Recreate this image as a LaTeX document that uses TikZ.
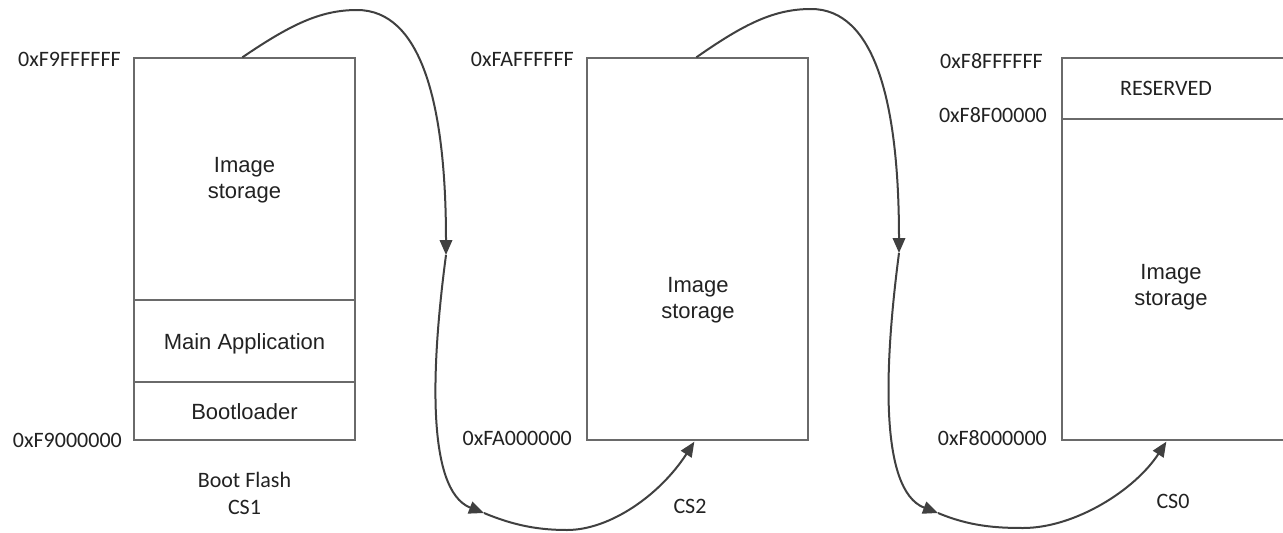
\documentclass[tikz,border=0pt]{standalone}
\usepackage{fontspec}
\setmainfont{Liberation Sans}
\newfontfamily\arialfont{Liberation Sans}
\newfontfamily\califont{Carlito}
\usetikzlibrary{arrows.meta,calc}
\definecolor{boxgray}{HTML}{6A6A6A}
\definecolor{linegray}{HTML}{404040}
\definecolor{txt}{HTML}{222222}
\begin{document}
\begin{tikzpicture}[x=1pt,y=-1pt,
  region/.style={draw=boxgray, line width=1.3pt, inner sep=0pt, minimum width=221pt,
    text height=16pt, text depth=0pt, text=txt, font=\arialfont\fontsize{22}{26}\selectfont},
  sans/.style={inner sep=0pt, text=txt, font=\arialfont\fontsize{22}{26}\selectfont},
  cal/.style={inner sep=0pt, text=txt, font=\califont\fontsize{22}{27}\selectfont},
  addr/.style={cal, anchor=base east},
  conn/.style={draw=linegray, line width=2pt, -{Triangle[length=15pt,width=12.5pt]}},
  plain/.style={draw=linegray, line width=2pt}]
\useasboundingbox[fill=white] (0,0) rectangle (1283,533);

% Box 1 (Boot Flash)
\node[region, minimum height=242pt] (b1img) at (244.5,179) {};
\node[region, minimum height=82pt] (b1app) at (244.5,341) {Main Application};
\node[region, minimum height=58pt] (b1boot) at (244.5,411) {Bootloader};
\node[sans, align=center] (t1img) at (244.5,180.5) {Image\\storage};
\node[cal, align=center] (t1name) at (244.5,493) {Boot Flash\\CS1};
\node[addr] (a1top) at (121,66) {0xF9FFFFFF};
\node[addr] (a1bot) at (122,447) {0xF9000000};

% Box 2
\node[region, minimum height=382pt] (b2img) at (697.5,249) {};
\node[sans, align=center] (t2img) at (698,300.5) {Image\\storage};
\node[cal, anchor=base] (t2name) at (690,513) {CS2};
\node[addr] (a2top) at (574,66) {0xFAFFFFFF};
\node[addr] (a2bot) at (572,445) {0xFA000000};

% Box 3
\node[region, minimum width=223pt, minimum height=61pt] (b3res) at (1173.5,88.5) {};
\node[region, minimum width=223pt, minimum height=321pt] (b3img) at (1173.5,279.5) {};
\node[cal, anchor=base] (t3res) at (1166,95) {RESERVED};
\node[sans, align=center] (t3img) at (1171,287.5) {Image\\storage};
\node[cal, anchor=base] (t3name) at (1173,508) {CS0};
\node[addr] (a3top) at (1043,68) {0xF8FFFFFF};
\node[addr] (a3mid) at (1047,122) {0xF8F00000};
\node[addr] (a3bot) at (1047,445) {0xF8000000};

% connector points
\coordinate (s1) at ($(b1img.north west)+(109,0)$);
\coordinate (m1) at (446,255);
\coordinate (q1) at (484,513);
\coordinate (e1) at ($(b2img.south west)+(108,1)$);
\coordinate (s2) at ($(b2img.north west)+(110,0)$);
\coordinate (m2) at (899,253);
\coordinate (q2) at (938,513);
\coordinate (e2) at ($(b3img.south west)+(105,1)$);

% first chain
\draw[conn] (s1) .. controls (290,25) and (320,10) .. (357,10)
  .. controls (420,10) and (446,100) .. (m1);
\draw[conn] (m1) .. controls (432,360) and (425,490) .. (q1);
\draw[conn] (q1) .. controls (515,526) and (540,530) .. (567,530)
  .. controls (610,530) and (660,495) .. (e1);

% second chain
\draw[conn] (s2) .. controls (744,24) and (774,9) .. (811,9)
  .. controls (874,9) and (899,100) .. (m2);
\draw[conn] (m2) .. controls (885,360) and (878,490) .. (q2);
\draw[conn] (q2) .. controls (969,526) and (995,528) .. (1023,528)
  .. controls (1075,528) and (1135,490) .. (e2);
\end{tikzpicture}
\end{document}
